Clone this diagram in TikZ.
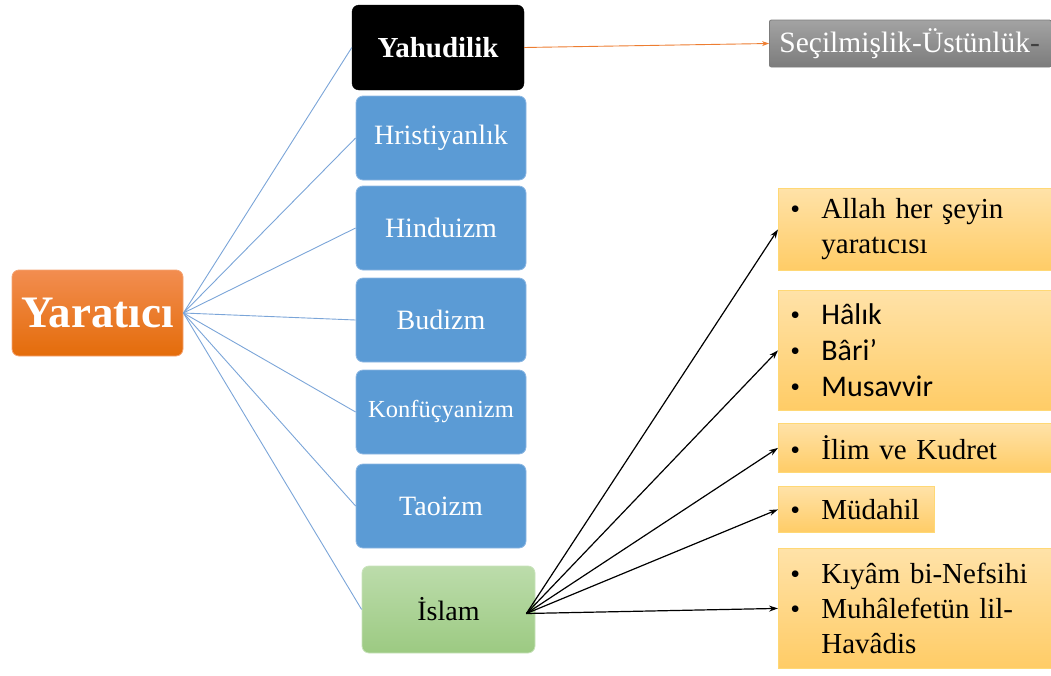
\documentclass[tikz,border=0pt]{standalone}
\usepackage{fontspec}
\setmainfont{Liberation Serif}
\newfontfamily\calib{Carlito}
\usetikzlibrary{arrows.meta}
\definecolor{boxblue}{HTML}{5B9BD5}
\definecolor{blueborder}{HTML}{8DB7E2}
\definecolor{lineblue}{HTML}{7BA5D8}
\definecolor{orA}{HTML}{F28D50}
\definecolor{orB}{HTML}{E46C0A}
\definecolor{grA}{HTML}{BCDCAB}
\definecolor{grB}{HTML}{9CCA82}
\definecolor{yeA}{HTML}{FFE2A8}
\definecolor{yeB}{HTML}{FFCC66}
\definecolor{yeBorder}{HTML}{FFD875}
\definecolor{gyA}{HTML}{A3A3A3}
\definecolor{gyB}{HTML}{7C7C7C}
\definecolor{arrorange}{HTML}{ED7D31}
\newcommand{\bl}{\makebox[31pt][l]{\fontsize{28}{28}\selectfont\textbullet}}
\newcommand{\ind}{\hspace*{31pt}}
\begin{document}
\begin{tikzpicture}[x=1pt,y=-1pt,
  rbox/.style={rounded corners=7pt, align=center, inner sep=0pt},
  relbox/.style={rbox, fill=boxblue, draw=blueborder, line width=0.8pt, text=white,
     minimum width=170pt, minimum height=84pt, font=\fontsize{28}{30}\selectfont},
  itembox/.style={anchor=north west, top color=yeA, bottom color=yeB, draw=yeBorder,
     line width=0.8pt, inner xsep=12pt, inner ysep=0pt, align=left,
     text width=249pt, font=\fontsize{29}{35}\selectfont},
  blueline/.style={draw=lineblue, line width=0.9pt},
  blackarr/.style={draw=black, line width=1.2pt, -{Stealth[length=9pt,width=6pt]}},
]
\useasboundingbox (0,0) rectangle (1051,675);

% main node
\node[rbox, top color=orA, bottom color=orB, draw=orA!80!white, line width=0.8pt,
  text=white, minimum width=171pt, minimum height=86pt,
  font=\fontsize{45}{48}\selectfont\bfseries] (yar) at (97.5,313) {Yaratıcı};

% religions
\node[rbox, fill=black, draw=black, text=white, minimum width=172pt, minimum height=85pt,
  font=\fontsize{29}{30}\selectfont\bfseries] (yah) at (438,47.5) {Yahudilik};
\node[relbox] (hri) at (441,138) {Hristiyanlık};
\node[relbox] (hin) at (441,228) {Hinduizm};
\node[relbox] (bud) at (441,320) {Budizm};
\node[relbox, font=\fontsize{24.5}{26}\selectfont] (kon) at (441,412) {Konfüçyanizm};
\node[relbox] (tao) at (441,506) {Taoizm};
\node[rbox, top color=grA, bottom color=grB, draw=grA!80!white, line width=0.8pt,
  text=black, minimum width=173pt, minimum height=87pt,
  font=\fontsize{28}{30}\selectfont] (isl) at (448.5,609.5) {İslam};

% grey box
\node[anchor=west, top color=gyA, bottom color=gyB, draw=gyB, line width=0.8pt,
  rounded corners=2pt, minimum height=47pt, inner xsep=10pt, inner ysep=0pt,
  text width=262pt, align=left, text=white, font=\fontsize{29.5}{30}\selectfont]
  (sec) at (769,43.5) {Seçilmişlik-Üstünlük\textcolor{black!75}{-}};

% item boxes
\node[itembox, minimum height=82pt] (b1) at (778,188)
  {\bl Allah her şeyin\\ \ind yaratıcısı};
\node[itembox, minimum height=120pt, font=\fontsize{30}{36}\selectfont] (b2) at (778,290)
  {\bl{\calib Hâlık}\\ \bl{\calib Bâri’}\\ \bl{\calib Musavvir}};
\node[itembox, minimum height=49pt] (b3) at (778,423)
  {\bl İlim ve Kudret};
\node[itembox, minimum height=46pt, text width=132pt] (b4) at (778,486)
  {\bl Müdahil};
\node[itembox, minimum height=120pt] (b5) at (778,548)
  {\bl Kıyâm bi-Nefsihi\\ \bl Muhâlefetün lil-\\ \ind Havâdis};

% connectors
\foreach \n in {yah,hri,hin,bud,kon,tao,isl}
  \draw[blueline] (yar.east) -- (\n.west);

\draw[draw=arrorange, line width=0.9pt, -{Stealth[length=7pt,width=5pt]}] (yah.east) -- (sec.west);

\coordinate (isrc) at ([xshift=-9pt,yshift=-4pt]isl.east);
\foreach \b in {b1,b2,b3,b4,b5}
  \draw[blackarr] (isrc) -- (\b.west);
\end{tikzpicture}
\end{document}
